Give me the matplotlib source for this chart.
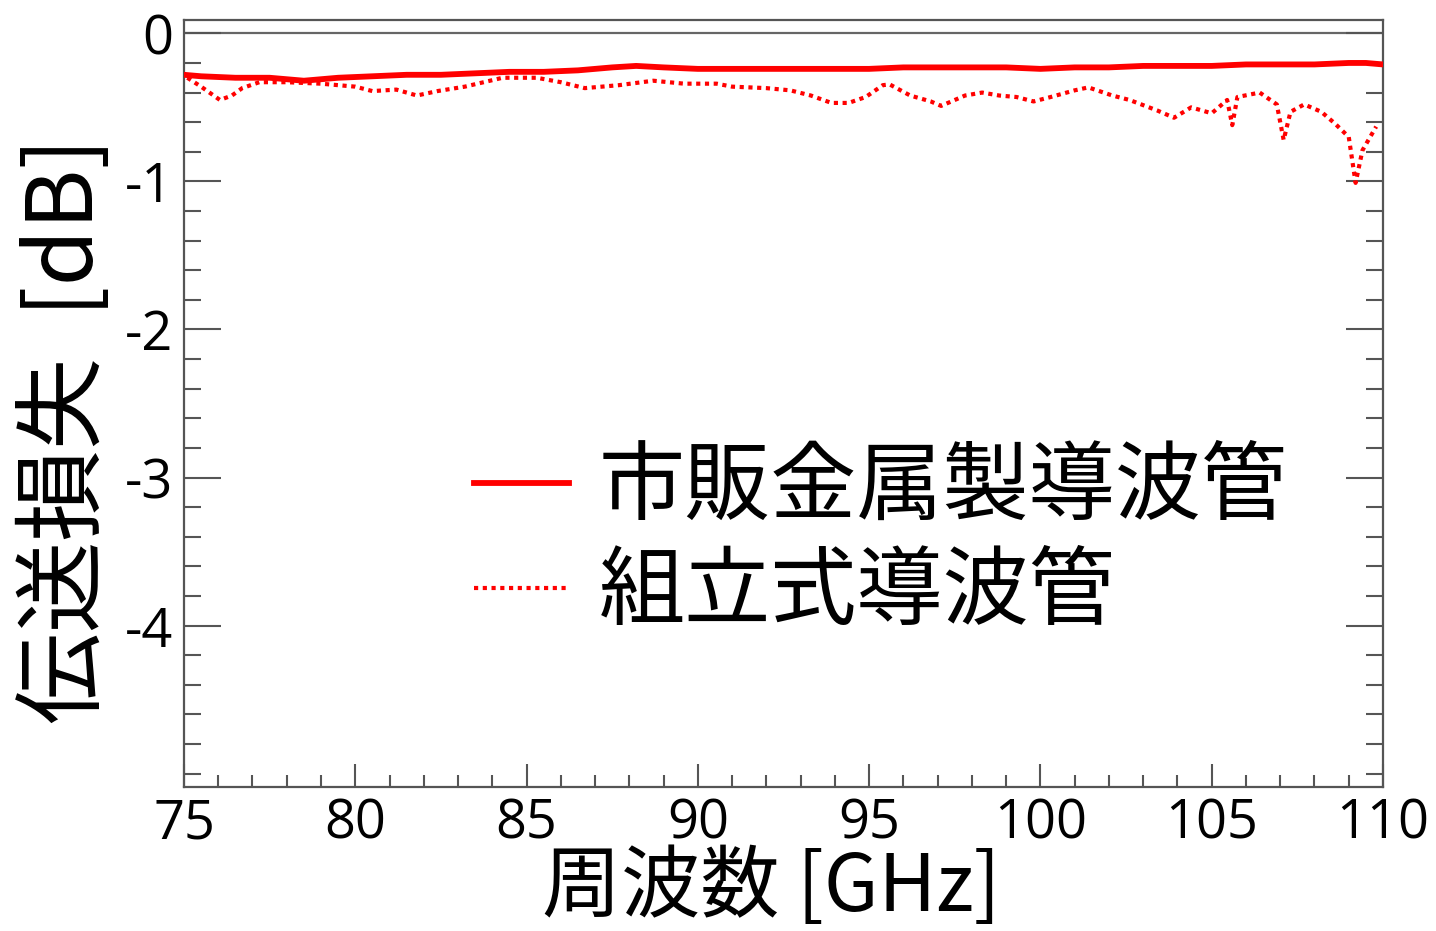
import matplotlib
matplotlib.use("Agg")
import matplotlib.pyplot as plt
from matplotlib.ticker import MultipleLocator

plt.rcParams['font.family'] = ['Noto Sans CJK JP', 'DejaVu Sans']

# --- data ---
freq_commercial = [75.0, 75.5, 76.5, 77.5, 78.5, 79.5, 80.5, 81.5, 82.5, 83.5, 84.5,
                   85.5, 86.5, 87.5, 88.2, 89.0, 90.0, 91.0, 92.0, 93.0, 94.0, 95.0,
                   96.0, 97.0, 98.0, 99.0, 100.0, 101.0, 102.0, 103.0, 104.0, 105.0,
                   106.0, 107.0, 108.0, 109.0, 109.5, 110.0]
loss_commercial = [-0.28, -0.29, -0.30, -0.30, -0.32, -0.30, -0.29, -0.28, -0.28, -0.27, -0.26,
                   -0.26, -0.25, -0.23, -0.22, -0.23, -0.24, -0.24, -0.24, -0.24, -0.24, -0.24,
                   -0.23, -0.23, -0.23, -0.23, -0.24, -0.23, -0.23, -0.22, -0.22, -0.22,
                   -0.21, -0.21, -0.21, -0.20, -0.20, -0.21]

freq_assembled = [75.1, 75.5, 76.05, 76.4, 76.7, 77.2, 78.0, 79.0, 80.0, 80.5, 81.2, 81.8,
                  82.4, 83.2, 84.3, 85.3, 86.0, 86.7, 87.7, 88.7, 89.6, 90.55, 91.0, 92.0,
                  92.7, 93.3, 93.9, 94.4, 94.9, 95.4, 95.6, 96.2, 96.8, 97.1, 97.8, 98.3,
                  98.8, 99.3, 99.8, 100.3, 101.0, 101.4, 102.1, 102.6, 103.4, 103.9, 104.4,
                  105.0, 105.45, 105.6, 105.75, 106.4, 106.9, 107.1, 107.3, 107.7, 108.2,
                  108.6, 109.0, 109.2, 109.4, 109.8]
loss_assembled = [-0.30, -0.36, -0.45, -0.42, -0.37, -0.33, -0.33, -0.34, -0.36, -0.39, -0.38, -0.42,
                  -0.39, -0.36, -0.30, -0.30, -0.33, -0.37, -0.35, -0.32, -0.34, -0.34, -0.36, -0.37,
                  -0.385, -0.42, -0.47, -0.47, -0.43, -0.35, -0.345, -0.42, -0.46, -0.49, -0.42, -0.40,
                  -0.42, -0.43, -0.46, -0.43, -0.385, -0.365, -0.42, -0.45, -0.52, -0.57, -0.50,
                  -0.54, -0.45, -0.62, -0.43, -0.40, -0.48, -0.72, -0.53, -0.48, -0.53,
                  -0.61, -0.70, -1.01, -0.79, -0.63]

label_commercial = "市販金属製導波管"
label_assembled = "組立式導波管"
xlabel = "周波数 [GHz]"
ylabel = "伝送損失  [dB]"
xticks = [75, 80, 85, 90, 95, 100, 105, 110]
yticks = [0, -1, -2, -3, -4]

# --- figure ---
fig = plt.figure(figsize=(14.36, 9.31), dpi=100)
ax = fig.add_axes([0.1281, 0.1547, 0.9631 - 0.1281, 0.9785 - 0.1547])

red = '#ff0000'
ax.plot(freq_commercial, loss_commercial, color=red, lw=4.2, solid_joinstyle='round',
        label=label_commercial, zorder=3)
ax.plot(freq_assembled, loss_assembled, color=red, lw=3.0, linestyle=(0, (1, 1.1)),
        label=label_assembled, zorder=2)

ax.axhline(0, color='#666666', lw=1.6, zorder=1)

ax.set_xlim(75, 110)
ax.set_ylim(-5.09, 0.09)

frame_c = '#555555'
for s in ax.spines.values():
    s.set_color(frame_c)
    s.set_linewidth(1.6)

ax.set_xticks(xticks)
ax.set_yticks(yticks)
ax.set_yticklabels([str(v) for v in yticks])
ax.xaxis.set_minor_locator(MultipleLocator(1))
ax.yaxis.set_minor_locator(MultipleLocator(0.2))

ax.tick_params(axis='x', which='major', direction='in', length=16.5, width=1.5,
               color=frame_c, labelsize=39, pad=7, top=False, bottom=True)
ax.tick_params(axis='x', which='minor', direction='in', length=8.6, width=1.5,
               color=frame_c, top=False, bottom=True)
ax.tick_params(axis='y', which='major', direction='in', length=26.6, width=1.5,
               color=frame_c, labelsize=39, pad=8, left=True, right=True)
ax.tick_params(axis='y', which='minor', direction='in', length=12.5, width=1.5,
               color=frame_c, left=True, right=True)
for lab in ax.get_xticklabels() + ax.get_yticklabels():
    lab.set_family(['Open Sans', 'DejaVu Sans'])

ax.set_xlabel(xlabel, fontsize=57)
ax.xaxis.set_label_coords(0.49, -0.079)
ax.set_ylabel(ylabel, fontsize=66)
ax.yaxis.set_label_coords(-0.058, 0.465)

leg = ax.legend(loc='upper left', bbox_to_anchor=(0.242, 0.447), frameon=False,
                fontsize=62, handlelength=1.1, handletextpad=0.35, labelspacing=0.2,
                borderaxespad=0, borderpad=0)

fig.savefig('out.png', dpi=100)
